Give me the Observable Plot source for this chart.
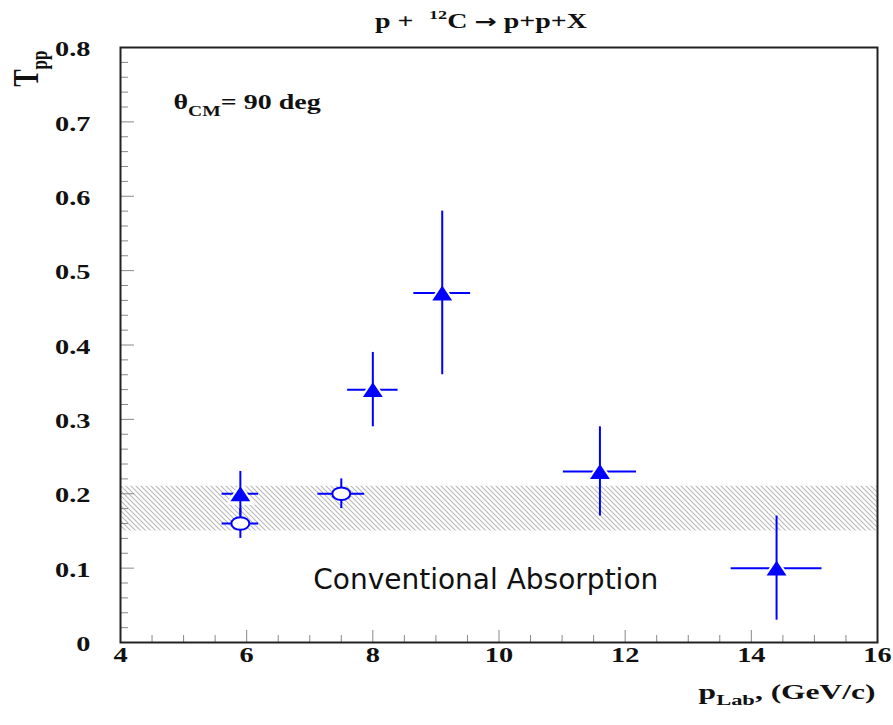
<!DOCTYPE html>
<html><head><meta charset="utf-8">
<script src="https://cdn.jsdelivr.net/npm/d3@7"></script>
<script src="https://cdn.jsdelivr.net/npm/@observablehq/plot@0.6"></script>
<style>body{margin:0;background:#fff} #chart svg{display:block}</style>
</head><body><div id="chart"></div>
<script>
// ---- data ----
const triX    = [5.9, 8.0, 9.1, 11.6, 14.4];
const triY    = [0.20, 0.34, 0.47, 0.23, 0.10];
const triXErr = [0.29, 0.40, 0.45, 0.58, 0.72];
const triYErr = [0.03, 0.05, 0.11, 0.06, 0.07];
const circX    = [5.9, 7.5];
const circY    = [0.16, 0.20];
const circXErr = [0.29, 0.37];
const circYErr = [0.02, 0.02];
const bandX = [4, 16];
const bandY = [0.15, 0.21];
const xTickLabels = [4, 6, 8, 10, 12, 14, 16];
const yTickLabels = [0, 0.1, 0.2, 0.3, 0.4, 0.5, 0.6, 0.7, 0.8];
const xMinorTicks = [4.5, 5, 5.5, 6.5, 7, 7.5, 8.5, 9, 9.5, 10.5, 11, 11.5, 12.5, 13, 13.5, 14.5, 15, 15.5];
const yMinorTicks = yTickLabels.slice(0, -1).flatMap(v => [1, 2, 3, 4].map(k => +(v + k * 0.02).toFixed(2)));
const titleText = "p + 12C → p+p+X";
const angleText = "θCM= 90 deg";
const bandLabel = "Conventional Absorption";
const bandLabelPos = {x: 9.79, y: 0.0713};
const xLabel = "pLab, (GeV/c)";
const yLabel = "Tpp";

// ---- tables ----
const tri = triX.map((x, i) => ({x, y: triY[i], xe: triXErr[i], ye: triYErr[i]}));
const circ = circX.map((x, i) => ({x, y: circY[i], xe: circXErr[i], ye: circYErr[i]}));
const all = tri.concat(circ);
const band = [{x1: bandX[0], x2: bandX[1], y1: bandY[0], y2: bandY[1]}];

// ---- geometry / style ----
const W = 893, H = 725, mL = 120, mR = 16, mT = 47, mB = 83;
const plotW = W - mL - mR, plotH = H - mT - mB;
const BLUE = "#0000ff";
const SERIF = "Liberation Serif, Times New Roman, serif";

const triSym = {draw(c, size) {
  const r = Math.sqrt(size / Math.PI), w = 1.4 * r, h = 1.05 * r;
  c.moveTo(0, -h); c.lineTo(w, h); c.lineTo(-w, h); c.closePath();
}};
const ellSym = {draw(c, size) {
  const r = Math.sqrt(size / Math.PI), rx = 1.2 * r, ry = 0.84 * r, k = 0.5523;
  c.moveTo(rx, 0);
  c.bezierCurveTo(rx, k * ry, k * rx, ry, 0, ry);
  c.bezierCurveTo(-k * rx, ry, -rx, k * ry, -rx, 0);
  c.bezierCurveTo(-rx, -k * ry, -k * rx, -ry, 0, -ry);
  c.bezierCurveTo(k * rx, -ry, rx, -k * ry, rx, 0);
  c.closePath();
}};

const serifText = {fontFamily: SERIF, fontWeight: "bold", fill: "#111"};

const svg = Plot.plot({
  width: W, height: H,
  marginLeft: mL, marginRight: mR, marginTop: mT, marginBottom: mB,
  style: {background: "#fff", overflow: "visible"},
  x: {domain: [4, 16], axis: null},
  y: {domain: [0, 0.8], axis: null},
  marks: [
    Plot.rect(band, {x1: "x1", x2: "x2", y1: "y1", y2: "y2", fill: "url(#hatch)"}),
    // ticks (inside)
    Plot.tickX(xMinorTicks, {x: d => d, insetTop: plotH - 7, stroke: "#888", strokeWidth: 1}),
    Plot.tickX(xTickLabels, {x: d => d, insetTop: plotH - 12, stroke: "#888", strokeWidth: 1}),
    Plot.tickY(yMinorTicks, {y: d => d, insetRight: plotW - 8, stroke: "#888", strokeWidth: 1}),
    Plot.tickY(yTickLabels, {y: d => d, insetRight: plotW - 14, stroke: "#888", strokeWidth: 1}),
    // horizontal error bars
    Plot.ruleY(all, {y: "y", x1: d => d.x - d.xe, x2: d => d.x + d.xe, stroke: BLUE, strokeWidth: 2}),
    // white halo giving the gap next to the triangles
    Plot.dot(tri, {x: "x", y: "y", symbol: triSym, r: 10.5, fill: "#fff", stroke: "none"}),
    // vertical error bars
    Plot.ruleX(all, {x: "x", y1: d => d.y - d.ye, y2: d => d.y + d.ye, stroke: BLUE, strokeWidth: 2}),
    Plot.dot(tri, {x: "x", y: "y", symbol: triSym, r: 7.1, fill: BLUE, stroke: "none"}),
    Plot.dot(circ, {x: "x", y: "y", symbol: ellSym, r: 7.5, fill: "#fff", stroke: BLUE, strokeWidth: 2}),
    Plot.frame({stroke: "#222", strokeWidth: 2}),
    // tick labels
    Plot.text(xTickLabels, {x: d => d, text: d => String(d), frameAnchor: "bottom", dy: 19,
      fontSize: 21, ...serifText, ariaDescription: "xticklabel"}),
    Plot.text(yTickLabels, {y: d => d, text: d => String(d), frameAnchor: "left", dx: -30, dy: 2,
      textAnchor: "end", fontSize: 21, ...serifText, ariaDescription: "yticklabel"}),
    // titles and annotations
    Plot.text([titleText], {text: d => d, frameAnchor: "top", dx: -18, dy: -20, lineAnchor: "bottom",
      fontSize: 20, ...serifText, ariaDescription: "title"}),
    Plot.text([angleText], {text: d => d, frameAnchor: "top-left", dx: 53, dy: 61, lineAnchor: "bottom",
      textAnchor: "start", fontSize: 20, ...serifText, ariaDescription: "angle"}),
    Plot.text([xLabel], {text: d => d, frameAnchor: "bottom-right", dx: -2, dy: 56, lineAnchor: "bottom",
      textAnchor: "end", fontSize: 21, ...serifText, ariaDescription: "xlabel"}),
    Plot.text([yLabel], {text: d => d, frameAnchor: "top-left", dx: -83, dy: 3, lineAnchor: "bottom",
      textAnchor: "end", rotate: -90, fontSize: 26, ...serifText, ariaDescription: "ylabel"}),
    Plot.text([bandLabel], {text: d => d, x: () => bandLabelPos.x, y: () => bandLabelPos.y, lineAnchor: "bottom",
      textAnchor: "middle", fontSize: 28, fontFamily: "DejaVu Sans", fill: "#111", ariaDescription: "bandlabel"})
  ]
});

// hatch pattern
const s = d3.select(svg);
const defs = s.insert("defs", ":first-child");
const pat = defs.append("pattern").attr("id", "hatch").attr("patternUnits", "userSpaceOnUse")
  .attr("width", 5).attr("height", 5);
pat.append("path").attr("d", "M0,0L5,5M-1,4L1,6M4,-1L6,1")
  .attr("stroke", "#b8b8b8").attr("stroke-width", 1.1).attr("fill", "none");

function texts(label) {
  return s.selectAll(`[aria-description="${label}"] text`);
}
// rich text (sub/superscripts)
function rich(label, parts) {
  texts(label).each(function () {
    const t = d3.select(this);
    t.text(null);
    for (const p of parts) {
      const sp = t.append("tspan").text(p.t);
      if (p.dy) sp.attr("dy", p.dy);
      if (p.dx) sp.attr("dx", p.dx);
      if (p.fs) sp.attr("font-size", p.fs);
      if (p.ff) sp.attr("font-family", p.ff);
    }
  });
}
rich("title", [{t: "p + "}, {t: "12", dx: 6, dy: -9, fs: 13}, {t: "C ", dy: 9},
  {t: "→", ff: "DejaVu Sans", fs: 19}, {t: " p+p+X"}]);
rich("angle", [{t: "θ"}, {t: "CM", dy: 7, fs: 14}, {t: "= 90 deg", dy: -7}]);
rich("xlabel", [{t: "p"}, {t: "Lab", dy: 6, fs: 15}, {t: ", (GeV/c)", dy: -6}]);
rich("ylabel", [{t: "T"}, {t: "pp", dy: 7, fs: 17}]);

// horizontal stretch of the serif texts, as in the reference picture
function stretch(label, sx, sy) {
  texts(label).each(function () {
    const tr = this.getAttribute("transform") || "";
    this.setAttribute("transform", `${tr} scale(${sx},${sy})`);
  });
}
["xticklabel", "yticklabel"].forEach(l => stretch(l, 1.35, 1));
["title", "angle"].forEach(l => stretch(l, 1.4, 1));
stretch("xlabel", 1.5, 1);
stretch("ylabel", 1, 1.35);

document.getElementById("chart").appendChild(svg);
</script>
</body></html>
